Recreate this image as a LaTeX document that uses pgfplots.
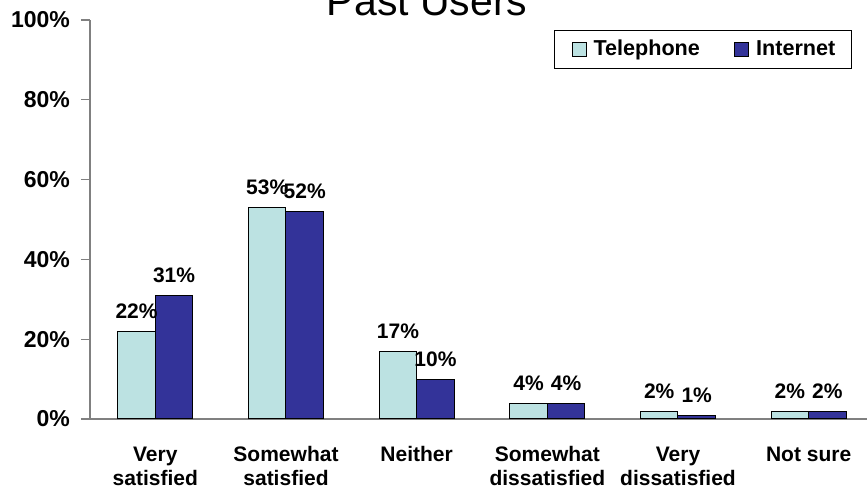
\documentclass[border=0pt]{standalone}
\usepackage{pgfplots}
\pgfplotsset{compat=1.18}
\usepackage{fontspec}
\setmainfont{Liberation Sans}
\definecolor{tel}{RGB}{188,226,226}
\definecolor{net}{RGB}{51,51,153}
\definecolor{axisgray}{RGB}{128,128,128}
\newcommand\lbl[2]{\begin{tabular}[t]{@{}c@{}}#1\\#2\end{tabular}}
\begin{document}
\begin{tikzpicture}
\begin{axis}[
    scale only axis,
    width=392pt, height=199.5pt,
    ybar=0pt, bar width=18.75pt,
    xmin=-0.5, xmax=5.5,
    ymin=0, ymax=100,
    axis x line*=bottom, axis y line*=left,
    axis line style={axisgray, line width=0.6pt},
    xtick={0,1,2,3,4,5},
    xticklabels={\lbl{Very}{satisfied}, \lbl{Somewhat}{satisfied}, \lbl{Neither}{}, \lbl{Somewhat}{dissatisfied}, \lbl{Very}{dissatisfied}, \lbl{Not sure}{}},
    xticklabel style={anchor=north, yshift=-5pt, font=\fontsize{10.5}{12}\selectfont\bfseries},
    major x tick style={draw=none},
    extra x ticks={-0.5,0.5,1.5,2.5,3.5,4.5,5.5},
    extra x tick labels={},
    extra x tick style={major tick length=7pt, tick align=center, tick style={axisgray, line width=0.6pt, yshift=-2pt}},
    ytick={0,20,40,60,80,100},
    yticklabel={\pgfmathprintnumber{\tick}\%},
    yticklabel style={font=\fontsize{11.5}{13}\selectfont\bfseries, xshift=-2pt},
    /pgf/number format/assume math mode=true,
    y tick style={axisgray, line width=0.6pt},
    ytick align=outside, major tick length=4.5pt,
    tick pos=left,
    nodes near coords={\pgfmathprintnumber{\pgfplotspointmeta}\%},
    nodes near coords align={anchor=base, yshift=6.5pt},
    every node near coord/.append style={font=\fontsize{10.5}{12}\selectfont\bfseries, inner sep=0pt},
    title={Past Users},
    title style={at={(axis description cs:0.43,0.982)}, anchor=base, font=\fontsize{20.5}{24}\selectfont},
    legend columns=2,
    legend style={at={(rel axis cs:0.972,0.975)}, anchor=north east, draw=black, line width=0.5pt,
      font=\fontsize{10.8}{12}\selectfont\bfseries, inner xsep=4.6pt, inner ysep=2.5pt,
      nodes={text height=7.8pt, text depth=2.3pt, inner xsep=3.5pt},
      /tikz/every even column/.append style={column sep=13.6pt}},
    legend cell align=left,
    clip=false,
]
\addplot[fill=tel, draw=black, line width=0.5pt,
  legend image code/.code={\path (-6.9pt,0);\draw[fill=tel, draw=black, line width=0.5pt] (-3pt,-3.5pt) rectangle (4pt,3.5pt);}]
  coordinates {(0,22) (1,53) (2,17) (3,4) (4,2) (5,2)};
\addplot[fill=net, draw=black, line width=0.5pt,
  legend image code/.code={\draw[fill=net, draw=black, line width=0.5pt] (-3pt,-3.5pt) rectangle (4pt,3.5pt);}]
  coordinates {(0,31) (1,52) (2,10) (3,4) (4,1) (5,2)};
\legend{Telephone, Internet}
\end{axis}
\pgfresetboundingbox
\path[use as bounding box] ([xshift=-45pt,yshift=-35.5pt]current axis.south west) rectangle ([xshift=388.5pt,yshift=209.5pt]current axis.south west);
\end{tikzpicture}
\end{document}
